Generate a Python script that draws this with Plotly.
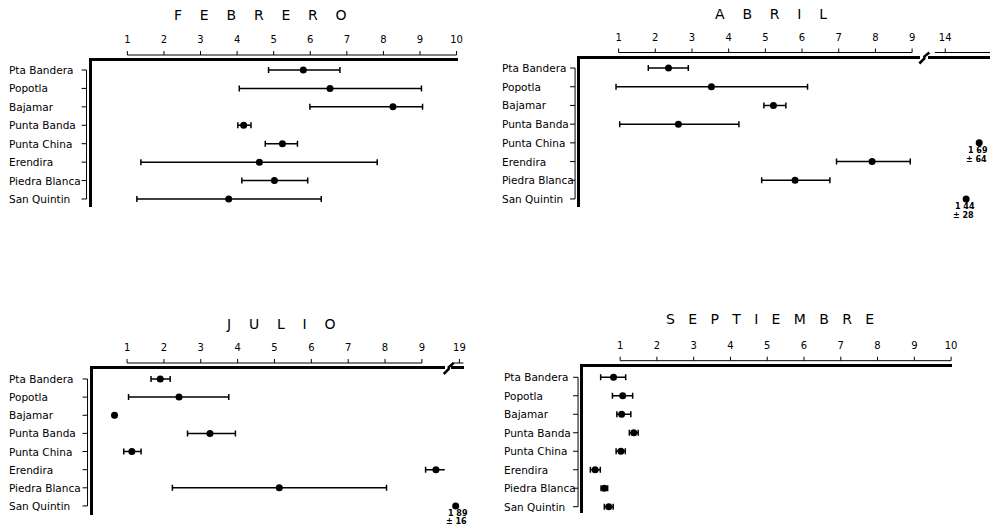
import plotly.graph_objects as go

# ---------------- data ----------------
sites = ["Pta Bandera", "Popotla", "Bajamar", "Punta Banda",
         "Punta China", "Erendira", "Piedra Blanca", "San Quintin"]

feb_mean = [5.81, 6.54, 8.26, 4.18, 5.24, 4.61, 5.02, 3.77]
feb_low = [4.86, 4.06, 5.99, 4.02, 4.77, 1.37, 4.13, 1.26]
feb_high = [6.81, 9.04, 9.07, 4.38, 5.65, 7.83, 5.93, 6.30]

abr_mean = [2.36, 3.53, 5.22, 2.63, None, 7.91, 5.81, None]
abr_low = [1.81, 0.93, 4.96, 1.03, None, 6.94, 4.90, None]
abr_high = [2.90, 6.15, 5.56, 4.28, None, 8.95, 6.76, None]

jul_mean = [1.90, 2.41, 0.66, 3.25, 1.13, 9.38, 5.13, None]
jul_low = [1.65, 1.04, None, 2.64, 0.91, 9.10, 2.23, None]
jul_high = [2.17, 3.76, None, 3.94, 1.38, 9.66, 8.04, None]

sep_mean = [0.82, 1.07, 1.04, 1.37, 1.02, 0.32, 0.57, 0.69]
sep_low = [0.47, 0.79, 0.91, 1.25, 0.89, 0.19, 0.48, 0.57]
sep_high = [1.15, 1.34, 1.29, 1.49, 1.14, 0.46, 0.66, 0.81]

# values beyond the axis break (plotted past the break, labelled)
abr_off_sites = ["Punta China", "San Quintin"]
abr_off_pos = [14.65, 14.4]
abr_off_mean_txt = ["1 69", "1 44"]
abr_off_sd_txt = ["± 64", "± 28"]

jul_off_sites = ["San Quintin"]
jul_off_pos = [18.9]
jul_off_mean_txt = ["1 89"]
jul_off_sd_txt = ["± 16"]

feb_ticks = [1, 2, 3, 4, 5, 6, 7, 8, 9, 10]
abr_ticks = [1, 2, 3, 4, 5, 6, 7, 8, 9]
abr_break_ticks = [14]
jul_ticks = [1, 2, 3, 4, 5, 6, 7, 8, 9]
jul_break_ticks = [19]
sep_ticks = [1, 2, 3, 4, 5, 6, 7, 8, 9, 10]

titles = ["FEBRERO", "ABRIL", "JULIO", "SEPTIEMBRE"]

# ---------------- layout geometry ----------------
W, H = 995, 530
FONT = "DejaVu Sans"
rows = list(range(len(sites)))


def xd(a, b):
    return [a / W, b / W]


def yd(top, bottom):
    return [1 - bottom / H, 1 - top / H]


fig = go.Figure()


def add_series(mean, low, high, xa, ya):
    plus = [(h - m) if (h is not None and m is not None) else None for m, h in zip(mean, high)]
    minus = [(m - l) if (l is not None and m is not None) else None for m, l in zip(mean, low)]
    fig.add_trace(go.Scatter(
        x=mean, y=rows, mode="markers", xaxis=xa, yaxis=ya,
        marker=dict(color="black", size=7),
        error_x=dict(type="data", symmetric=False, array=plus, arrayminus=minus,
                     color="black", thickness=1.5, width=3),
        cliponaxis=False, showlegend=False, hoverinfo="skip"))


add_series(feb_mean, feb_low, feb_high, "x", "y")
add_series(abr_mean, abr_low, abr_high, "x2", "y2")
add_series(jul_mean, jul_low, jul_high, "x4", "y4")
add_series(sep_mean, sep_low, sep_high, "x6", "y6")

# off-scale points
fig.add_trace(go.Scatter(x=abr_off_pos, y=[sites.index(s) for s in abr_off_sites],
                         mode="markers", xaxis="x3", yaxis="y2", cliponaxis=False,
                         marker=dict(color="black", size=7), showlegend=False, hoverinfo="skip"))
fig.add_trace(go.Scatter(x=jul_off_pos, y=[sites.index(s) for s in jul_off_sites],
                         mode="markers", xaxis="x5", yaxis="y4", cliponaxis=False,
                         marker=dict(color="black", size=7), showlegend=False, hoverinfo="skip"))

annotations = []
small = dict(family=FONT, size=8, color="black")
for pos, s, mt, st in zip(abr_off_pos, abr_off_sites, abr_off_mean_txt, abr_off_sd_txt):
    annotations.append(dict(x=pos, y=sites.index(s), xref="x3", yref="y2", text="<b>" + mt + "</b>",
                            showarrow=False, yshift=-8, xshift=-1, font=small))
    annotations.append(dict(x=pos, y=sites.index(s), xref="x3", yref="y2", text="<b>" + st + "</b>",
                            showarrow=False, yshift=-17, xshift=-3, font=small))
for pos, s, mt, st in zip(jul_off_pos, jul_off_sites, jul_off_mean_txt, jul_off_sd_txt):
    annotations.append(dict(x=pos, y=sites.index(s), xref="x5", yref="y4", text="<b>" + mt + "</b>",
                            showarrow=False, yshift=-8, xshift=2, font=small))
    annotations.append(dict(x=pos, y=sites.index(s), xref="x5", yref="y4", text="<b>" + st + "</b>",
                            showarrow=False, yshift=-16, xshift=1, font=small))

# panel titles
title_pos = [(262, 15), (775, 14), (282, 324), (774, 319)]
title_gaps = [4, 4, 4, 3]
for t, (px, py), g in zip(titles, title_pos, title_gaps):
    annotations.append(dict(x=px / W, y=1 - py / H, xref="paper", yref="paper",
                            xanchor="center", yanchor="middle",
                            text=("\u00a0" * g).join(list(t)), showarrow=False,
                            font=dict(family=FONT, size=14, color="black")))

# site labels (left aligned, as in the original)
label_x = [7, 503, 7, 505]
label_axes = ["y", "y2", "y4", "y6"]
for lx, ya in zip(label_x, label_axes):
    for r, s in zip(rows, sites):
        annotations.append(dict(x=lx / W, y=r, xref="paper", yref=ya, xanchor="left",
                                yanchor="middle", text=s, showarrow=False,
                                font=dict(family=FONT, size=10.5, color="black")))


def xaxis(dom, rng, ticks, anchor):
    return dict(domain=dom, range=rng, side="top", anchor=anchor, tickvals=ticks,
                ticktext=[str(v) for v in ticks], ticks="", ticklabelstandoff=11,
                showline=True, linewidth=3, linecolor="black", showgrid=False, zeroline=False,
                tickfont=dict(family=FONT, size=10, color="black"), fixedrange=True)


def yaxis(dom, rng, anchor):
    return dict(domain=dom, range=rng, anchor=anchor, tickvals=rows, showticklabels=False,
                ticks="", showline=True, linewidth=2.5, linecolor="black",
                showgrid=False, zeroline=False, fixedrange=True)


layout_axes = dict(
    xaxis=xaxis(xd(92, 460), [0.021, 10.03], feb_ticks, "y"),
    yaxis=yaxis(yd(61, 207), [7.434, -0.488], "x"),
    xaxis2=xaxis(xd(583, 925), [-0.05, 9.225], abr_ticks, "y2"),
    yaxis2=yaxis(yd(58.5, 207), [7.43, -0.51], "x2"),
    xaxis3=xaxis(xd(933, 995), [13.676, 14.857], abr_break_ticks, "y2"),
    xaxis4=xaxis(xd(93, 447), [0.063, 9.62], jul_ticks, "y4"),
    yaxis4=yaxis(yd(369, 515), [7.5, -0.55], "x4"),
    xaxis5=xaxis(xd(453, 466), [18.765, 19.116], jul_break_ticks, "y4"),
    xaxis6=xaxis(xd(586, 957), [-0.009, 10.03], sep_ticks, "y6"),
    yaxis6=yaxis(yd(366.7, 513), [7.34, -0.573], "x6"),
)

shapes = []
thin = dict(color="black", width=1)


def scale_line(xa, ya, ticks, x_from, x_to):
    shapes.append(dict(type="line", xref=xa, yref=ya + " domain", ysizemode="pixel", yanchor=1,
                       x0=x_from, x1=x_to, y0=6, y1=6, line=thin))
    for t in ticks:
        shapes.append(dict(type="line", xref=xa, yref=ya + " domain", ysizemode="pixel", yanchor=1,
                           x0=t, x1=t, y0=6, y1=10, line=thin))


def bracket(xa, ya):
    shapes.append(dict(type="line", xref=xa + " domain", xsizemode="pixel", xanchor=0, yref=ya,
                       x0=-5, x1=-5, y0=rows[0], y1=rows[-1], line=thin))
    for r in rows:
        shapes.append(dict(type="line", xref=xa + " domain", xsizemode="pixel", xanchor=0, yref=ya,
                           x0=-10, x1=-5, y0=r, y1=r, line=thin))


def brk(xa, ya):
    shapes.append(dict(type="path", xref=xa + " domain", xsizemode="pixel", xanchor=1,
                       yref=ya + " domain", ysizemode="pixel", yanchor=1,
                       path="M -1,-5 L 4,0 L 4,2 L 9,6", line=dict(color="black", width=2.5)))


scale_line("x", "y", feb_ticks, feb_ticks[0], feb_ticks[-1])
scale_line("x2", "y2", abr_ticks, abr_ticks[0], abr_ticks[-1])
scale_line("x3", "y2", abr_break_ticks, 13.8, 14.857)
scale_line("x4", "y4", jul_ticks, jul_ticks[0], jul_ticks[-1])
scale_line("x5", "y4", jul_break_ticks, 18.8, 19.116)
scale_line("x6", "y6", sep_ticks, sep_ticks[0], sep_ticks[-1])
bracket("x", "y")
bracket("x2", "y2")
bracket("x4", "y4")
bracket("x6", "y6")
brk("x2", "y2")
brk("x4", "y4")

fig.update_layout(
    width=W, height=H, autosize=False,
    margin=dict(l=0, r=0, t=0, b=0),
    paper_bgcolor="white", plot_bgcolor="white",
    showlegend=False, annotations=annotations, shapes=shapes,
    **layout_axes)

fig.write_html("out.html", config={"displayModeBar": False},
               post_script="document.body.style.margin='0px';document.body.style.overflow='hidden';")
